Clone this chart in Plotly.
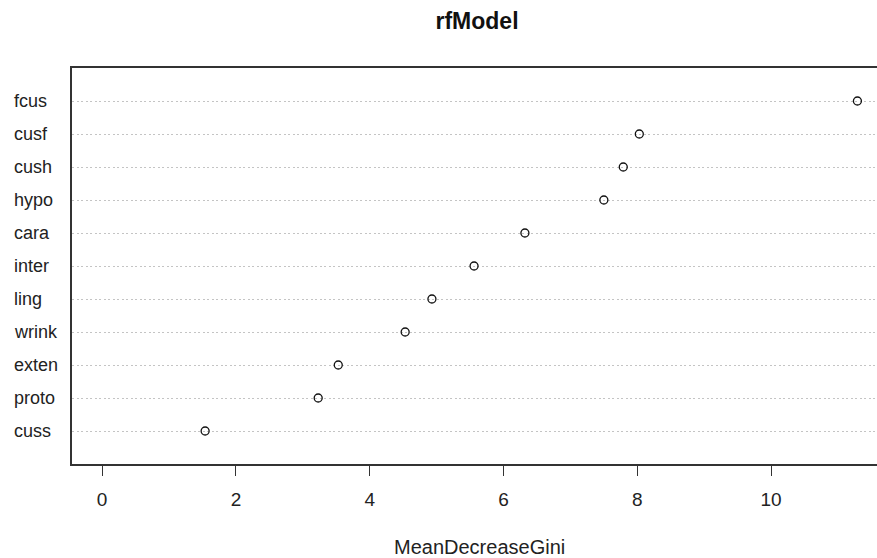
import plotly.graph_objects as go

features = ["fcus", "cusf", "cush", "hypo", "cara", "inter", "ling", "wrink", "exten", "proto", "cuss"]
mean_decrease_gini = [11.29, 8.03, 7.79, 7.50, 6.32, 5.56, 4.93, 4.53, 3.53, 3.23, 1.54]
x_ticks = [0, 2, 4, 6, 8, 10]

n = len(features)
rows = [n - i for i in range(n)]  # top row = n, bottom = 1

W, H = 877, 558
ml, mr, mt, mb = 72, 0, 68, 94
pw = W - ml - mr
ph = H - mt - mb
FONT = "Liberation Sans, Arial, sans-serif"

fig = go.Figure()
fig.add_trace(go.Scatter(
    x=mean_decrease_gini, y=rows, mode="markers",
    marker=dict(symbol="circle-open", size=8, color="#111111", line=dict(width=1.3, color="#111111")),
    showlegend=False, hoverinfo="x+text", text=features,
))

annotations = []
for f, r in zip(features, rows):
    annotations.append(dict(
        text=f, x=(12 - ml) / pw, xref="paper", y=r, yref="y",
        xanchor="left", yanchor="middle", showarrow=False,
        font=dict(family=FONT, size=18, color="#222222"),
    ))
annotations.append(dict(
    text="MeanDecreaseGini", x=(479 - ml) / pw, xref="paper", y=(H - 547 - mb) / ph, yref="paper",
    xanchor="center", yanchor="middle", showarrow=False,
    font=dict(family=FONT, size=20, color="#222222"),
))

fig.update_layout(
    width=W, height=H,
    margin=dict(l=ml, r=mr, t=mt, b=mb, pad=0),
    paper_bgcolor="white", plot_bgcolor="white",
    title=dict(text="<b>rfModel</b>", x=(477 - ml) / pw, xref="paper", xanchor="center",
               y=1 - 21 / H, yref="container", yanchor="middle",
               font=dict(family=FONT, size=23, color="#111111")),
    annotations=annotations,
    xaxis=dict(
        range=[-0.45, -0.45 + pw / 66.9], tickvals=x_ticks, ticktext=[str(v) for v in x_ticks],
        ticks="outside", ticklen=10, tickwidth=1.2, tickcolor="#333333",
        ticklabelstandoff=7,
        showline=True, linecolor="#333333", linewidth=1.5, mirror=True,
        showgrid=False, zeroline=False,
        tickfont=dict(family=FONT, size=19, color="#222222"),
    ),
    yaxis=dict(
        range=[0, n + 1], tickvals=rows, showticklabels=False, ticks="",
        showline=True, linecolor="#333333", linewidth=1.5, mirror=False,
        showgrid=True, gridcolor="#c4c4c4", gridwidth=1.2, griddash="2px,2.5px",
        zeroline=False,
    ),
)

fig.write_html("out.html", config={"displayModeBar": False},
               post_script="document.body.style.margin='0';")
